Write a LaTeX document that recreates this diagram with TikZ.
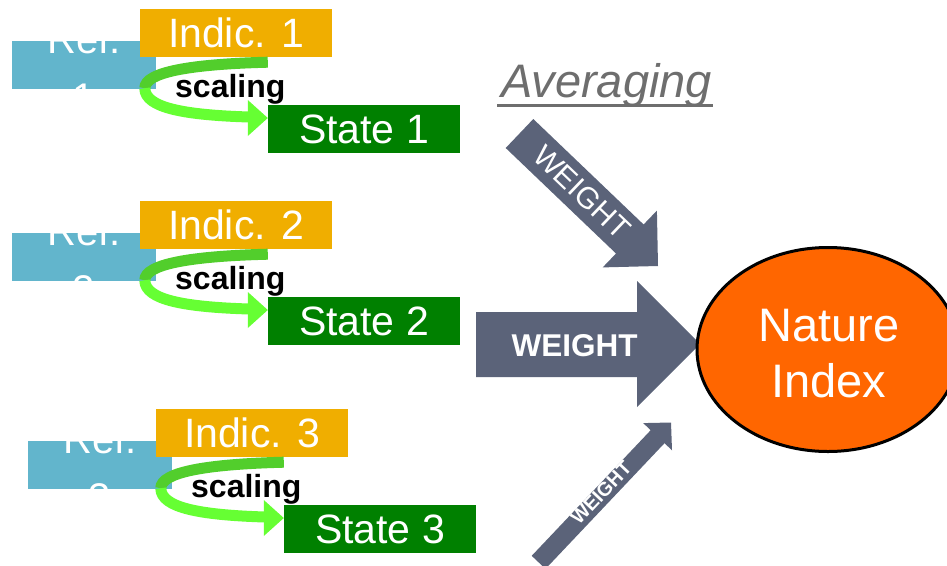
\documentclass[tikz,border=0pt]{standalone}
\usepackage{fontspec}
\setmainfont{Liberation Sans}
\usetikzlibrary{calc,shapes.geometric}

\definecolor{refblue}{HTML}{62B5CC}
\definecolor{indicgold}{HTML}{F0AE00}
\definecolor{stategreen}{HTML}{008000}
\definecolor{scaledark}{HTML}{52CE2C}
\definecolor{scalelight}{HTML}{66FF33}
\definecolor{weightgray}{HTML}{5B6379}
\definecolor{natorange}{HTML}{FF6600}
\definecolor{avggray}{HTML}{6E6E6E}

\tikzset{
  boxfont/.style={font=\fontsize{41}{49}\selectfont},
  reftext/.style={font=\fontsize{40}{48}\selectfont, text=white, inner sep=0pt, anchor=base},
  refbox/.style={fill=refblue, inner sep=0pt, minimum width=144pt, minimum height=48pt,
    path picture={
      \node[reftext] at ([yshift=12pt]path picture bounding box.center) {Ref.};
      \node[reftext] at ([yshift=-46pt]path picture bounding box.center) {#1};
    }},
  indicbox/.style={boxfont, fill=indicgold, text=white, inner sep=0pt,
    minimum width=192pt, minimum height=48pt},
  statebox/.style={boxfont, fill=stategreen, text=white, inner sep=0pt,
    minimum width=192pt, minimum height=48pt},
  scaletext/.style={font=\bfseries\fontsize{32}{38}\selectfont, inner sep=0pt, anchor=base},
  scalearm/.style={draw=#1, line width=11pt},
  weightfill/.style={fill=weightgray},
  weightlabel/.style={text=white, inner sep=0pt},
  naturebox/.style={ellipse, fill=natorange, draw=black, line width=3pt,
    minimum width=262pt, minimum height=204pt, inner sep=0pt},
  naturetext/.style={text=white, align=center, inner sep=0pt,
    font=\fontsize{47}{56}\selectfont},
  avgtext/.style={text=avggray, inner sep=0pt, anchor=base west,
    font=\itshape\fontsize{47}{56}\selectfont},
}

% One reference / indicator / state block with its scaling arrow.
% #1 block number, #2 horizontal offset, #3 vertical offset
\newcommand\stateblock[3]{%
  \node[refbox=#1] (ref#1) at (84+#2,65+#3) {};
  \node[indicbox] (indic#1) at (236+#2,33+#3) {Indic. #1};
  \coordinate (arm#1a) at ($(indic#1.south west)+(128,5)$);
  \coordinate (arm#1b) at ($(indic#1.south west)+(5,31)$);
  \node[statebox] (state#1) at (364+#2,129+#3) {State #1};
  \coordinate (arm#1c) at ($(state#1.west)+(-19,-12)$);
  \coordinate (tip#1) at ($(state#1.west)+(0,-11)$);
  \coordinate (head#1u) at ($(state#1.west)+(-20,-29)$);
  \coordinate (head#1d) at ($(state#1.west)+(-20,7)$);
  \draw[scalearm=scaledark] (arm#1a) .. controls +(-78,2) and +(0,-16) .. (arm#1b);
  \draw[scalearm=scalelight] (arm#1b) .. controls +(0,20) and +(-63,-2) .. (arm#1c);
  \fill[scalelight] (head#1u) -- (tip#1) -- (head#1d) -- cycle;
  \node[scaletext] (scal#1) at ($(indic#1.south west)+(90.5,40)$) {scaling};
}

\begin{document}
\begin{tikzpicture}[x=1pt,y=-1pt]
\useasboundingbox (0,0) rectangle (947,565);
\clip (0,0) rectangle (947,565);

\stateblock{1}{0}{0}
\stateblock{2}{0}{192}
\stateblock{3}{16}{400}

% heading
\node[avgtext] (avg) at (501,97) {Averaging};
\draw[avggray, line width=3.5pt] ($(avg.base west)+(-4,8.5)$) -- ($(avg.base east)+(1,8.5)$);

% weight arrows
\fill[weightfill] (505.7,148) -- (533.3,119) -- (643.6,224.5) -- (656.9,210.6)
  -- (658,266) -- (602.7,267.4) -- (616,253.5) -- cycle;
\node[weightlabel, rotate=-43.7, font=\fontsize{30}{36}\selectfont] (w1) at (582,192) {WEIGHT};

\fill[weightfill] (476,312) -- (637,312) -- (637,281) -- (700,344)
  -- (637,407) -- (637,377) -- (476,377) -- cycle;
\node[weightlabel, font=\bfseries\fontsize{31.5}{37}\selectfont] (w2) at (574.5,346) {WEIGHT};

\fill[weightfill] (531.7,555.8) -- (650.7,430.2) -- (643.2,423.1) -- (671,422.5)
  -- (672,450.3) -- (664.5,443.2) -- (545.5,568.9) -- cycle;
\node[weightlabel, rotate=46.5, font=\bfseries\fontsize{19.5}{23}\selectfont] (w3) at (601,493) {WEIGHT};

% aggregated index
\node[naturebox] (nature) at (828,349.5) {};
\node[naturetext] (naturelabel) at ($(nature.center)+(1,4)$) {Nature\\Index};
\end{tikzpicture}
\end{document}
